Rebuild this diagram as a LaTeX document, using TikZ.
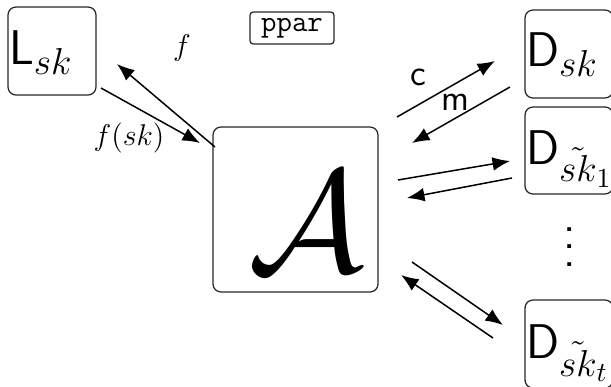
\RequirePackage{fix-cm}
\documentclass[tikz,border=0pt]{standalone}
\usetikzlibrary{arrows.meta,calc}
\DeclareMathSizes{19.5}{19.5}{15}{11}
\begin{document}
\begin{tikzpicture}[x=0.4pt,y=-0.4pt,
  box/.style={draw=black!85, line width=0.5pt, rounded corners=3.2pt, inner sep=0pt},
  lbl/.style={inner sep=0pt, anchor=base west, font=\fontsize{19.5}{23}\selectfont},
  conn/.style={line width=0.6pt, -{Latex[length=7pt,width=5.5pt]}},
  dotstack/.style={inner sep=0pt, align=center, font=\sffamily\fontsize{19}{7.1}\selectfont}]
\useasboundingbox (0,0) rectangle (611,386);
% boxes
\node[box, minimum width=35.2pt, minimum height=35.2pt] (L) at (52,51) {};
\node[lbl] (Lt) at (8.5,65) {$\mathsf{L}_{sk}$};
\node[box, rounded corners=1.3pt, minimum width=33.6pt, minimum height=12.8pt, font=\large\ttfamily] (ppar) at (292,28) {ppar};
\node[box, minimum width=66pt, minimum height=66pt] (A) at (295.5,209.5) {};
\node[inner sep=0pt, font=\fontsize{58}{62}\selectfont] (At) at (306,222) {$\mathcal{A}$};
\node[box, minimum width=35.2pt, minimum height=35.2pt] (D0) at (569,54) {};
\node[lbl] (D0t) at (525.5,67) {$\mathsf{D}_{sk}$};
\node[box, minimum width=35.2pt, minimum height=34.8pt] (D1) at (569,150.5) {};
\node[lbl] (D1t) at (525.5,164) {$\mathsf{D}_{\tilde{sk}_1}$};
\node[box, minimum width=35.2pt, minimum height=35.2pt] (Dt) at (569,344) {};
\node[lbl] (Dtt) at (525.5,358) {$\mathsf{D}_{\tilde{sk}_t}$};
\node[dotstack] (dots) at (570,247) {.\\.\\.};
% coordinates
\coordinate (f1) at (215,147); \coordinate (f2) at (117,64);
\coordinate (g1) at (101,88); \coordinate (g2) at (200,143);
\coordinate (c1) at (397,117); \coordinate (c2) at (495,61);
\coordinate (m1) at (510,87); \coordinate (m2) at (412,143);
\coordinate (p1) at (398,180); \coordinate (p2) at (510,161);
\coordinate (q1) at (512,178); \coordinate (q2) at (407,198);
\coordinate (r1) at (412,262); \coordinate (r2) at (503,325);
\coordinate (s1) at (493,338); \coordinate (s2) at (401,275);
% connectors
\draw[conn] (f1) -- (f2);
\draw[conn] (g1) -- (g2);
\draw[conn] (c1) -- (c2);
\draw[conn] (m1) -- (m2);
\draw[conn] (p1) -- (p2);
\draw[conn] (q1) -- (q2);
\draw[conn] (r1) -- (r2);
\draw[conn] (s1) -- (s2);
% labels
\node[inner sep=0pt, font=\large] (fl) at (182,48) {$f$};
\node[inner sep=0pt, font=\large] (gl) at (129,138) {$f(sk)$};
\node[inner sep=0pt, font=\Large\sffamily] (cl) at (418,77) {c};
\node[inner sep=0pt, font=\Large\sffamily] (ml) at (455,102) {m};
\end{tikzpicture}
\end{document}
